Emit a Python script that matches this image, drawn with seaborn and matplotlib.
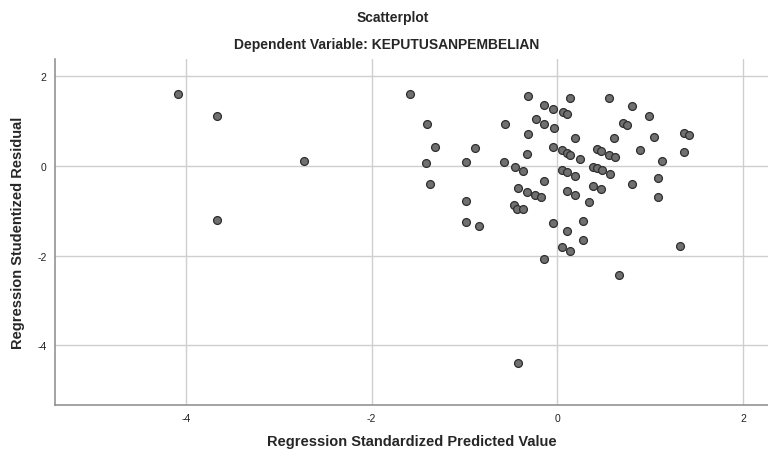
import numpy as np
import pandas as pd
import matplotlib
matplotlib.use("Agg")
import matplotlib.pyplot as plt
import seaborn as sns

# -----------------------------
# Data
# -----------------------------
pred_std = [
    -4.09, -3.67, -2.73, -3.67, -0.42,
    -1.59, -1.40, -1.32, -0.89, -1.41, -0.98, -0.56, -0.32, -0.14, -0.05,
    -0.23, -0.14, -0.04, -0.32, -0.05, -0.33, -0.57, -0.46, -0.37, -1.37,
    -0.14, -0.42, -0.33, -0.24, -0.18,
    -0.98, -0.47, -0.43, -0.37, -0.98, -0.84, -0.05, -0.14,
    0.14, 0.56, 0.80, 0.99, 0.06, 0.10, 0.71, 0.75, 1.37, 1.42,
    0.19, 0.61, 1.04, 0.89, 1.37, 1.13, 0.05, 0.10, 0.14, 0.24,
    0.43, 0.47, 0.56, 0.62, 0.05, 0.10, 0.19, 0.38, 0.43, 0.48,
    0.57, 1.09, 0.10, 0.19, 0.38, 0.47, 0.80, 1.08,
    0.34, 0.28, 0.10, 0.28, 0.05, 0.14, 1.32, 0.66,
]
resid_stud = [
    1.60, 1.12, 0.11, -1.20, -4.40,
    1.60, 0.94, 0.43, 0.41, 0.07, 0.09, 0.94, 1.56, 1.37, 1.27,
    1.05, 0.95, 0.86, 0.71, 0.43, 0.28, 0.10, -0.01, -0.10, -0.41,
    -0.33, -0.48, -0.57, -0.65, -0.69,
    -0.77, -0.86, -0.95, -0.95, -1.25, -1.34, -1.27, -2.08,
    1.52, 1.53, 1.34, 1.12, 1.20, 1.16, 0.97, 0.92, 0.74, 0.69,
    0.62, 0.63, 0.64, 0.35, 0.31, 0.12, 0.35, 0.30, 0.25, 0.15,
    0.39, 0.33, 0.25, 0.20, -0.08, -0.13, -0.23, -0.01, -0.04, -0.09,
    -0.18, -0.27, -0.56, -0.65, -0.44, -0.51, -0.41, -0.70,
    -0.81, -1.22, -1.44, -1.64, -1.81, -1.90, -1.79, -2.43,
]
x_ticks = [-4, -2, 0, 2]
y_ticks = [2, 0, -2, -4]

df = pd.DataFrame({"pred": pred_std, "resid": resid_stud})

sns.set_style("white")
plt.rcParams["font.family"] = ["Liberation Sans", "DejaVu Sans"]

fig = plt.figure(figsize=(7.68, 4.52), dpi=100)
ax = fig.add_axes([55 / 768, 46 / 452, 1 - 55 / 768, 346 / 452])

sns.scatterplot(
    data=df, x="pred", y="resid", ax=ax,
    s=32, color="#707070", edgecolor="#2e2e2e", linewidth=0.9,
    zorder=3
)

ax.set_xlim(-5.41, 2.27)
ax.set_ylim(-5.33, 2.39)
ax.set_xticks(x_ticks)
ax.set_yticks(y_ticks)
ax.set_xticklabels([str(t) for t in x_ticks])
ax.set_yticklabels([str(t) for t in y_ticks])
ax.grid(True, color="#cfcfcf", linewidth=1.0)
ax.set_axisbelow(True)
ax.tick_params(axis="both", length=0, labelsize=7.5, colors="#222222", pad=6)

for side in ["top", "right"]:
    ax.spines[side].set_visible(False)
for side in ["left", "bottom"]:
    ax.spines[side].set_color("#8a8a8a")
    ax.spines[side].set_linewidth(1.1)

ax.set_xlabel("Regression Standardized Predicted Value",
              fontsize=10.5, fontweight="bold", labelpad=8)
ax.set_ylabel("Regression Studentized Residual",
              fontsize=10.5, fontweight="bold", labelpad=9)

fig.text(0.512, 0.96, "Scatterplot", ha="center", va="center",
         fontsize=10, fontweight="bold")
fig.text(0.503, 0.90, "Dependent Variable: KEPUTUSANPEMBELIAN",
         ha="center", va="center", fontsize=10, fontweight="bold")

fig.savefig("out.png", dpi=100)
